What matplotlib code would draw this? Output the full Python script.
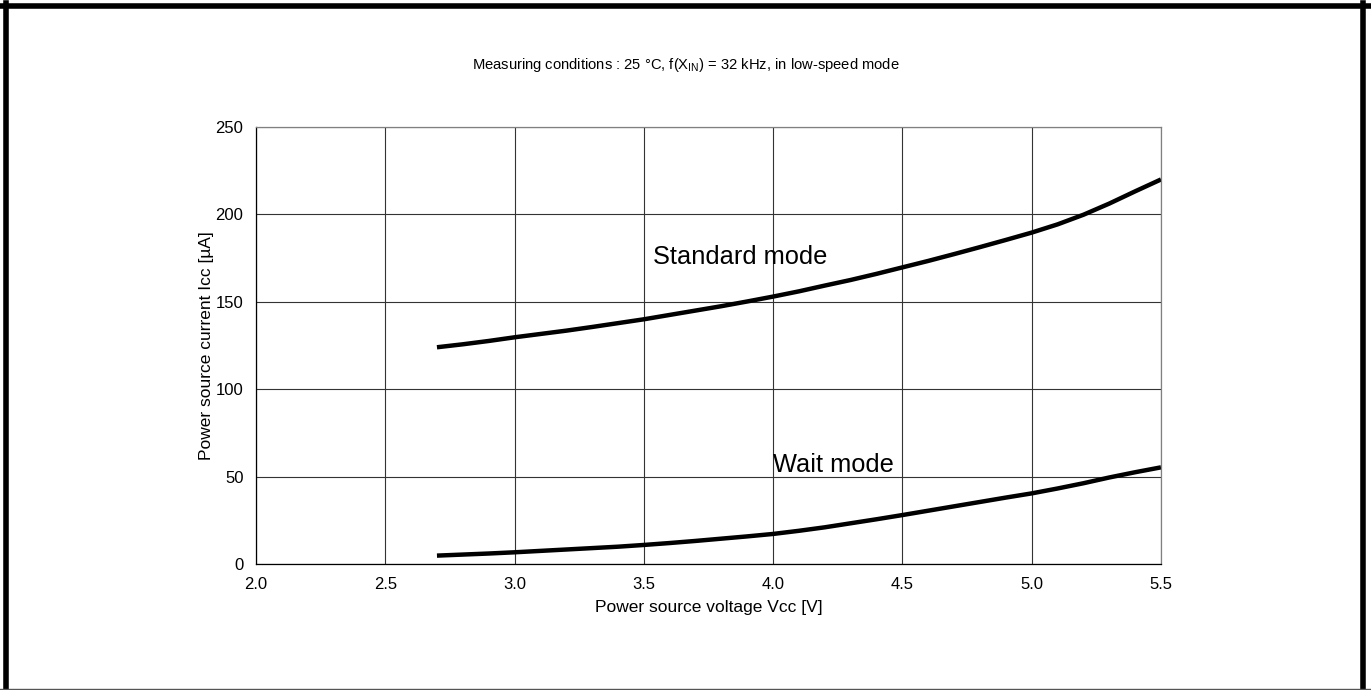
import matplotlib
matplotlib.use("Agg")
import matplotlib.pyplot as plt
from matplotlib.lines import Line2D
import numpy as np

plt.rcParams['font.family'] = ['Liberation Sans', 'DejaVu Sans']
plt.rcParams['mathtext.fontset'] = 'custom'
plt.rcParams['mathtext.rm'] = 'Liberation Sans'

# supply voltage [V]
vcc = [2.7, 2.8, 2.9, 3.0, 3.1, 3.2, 3.3, 3.4, 3.5, 3.6, 3.7, 3.8, 3.9, 4.0, 4.1,
       4.2, 4.3, 4.4, 4.5, 4.6, 4.7, 4.8, 4.9, 5.0, 5.1, 5.2, 5.3, 5.4, 5.5]
# current [uA]
icc_standard = [124.0, 125.7, 127.6, 129.7, 131.6, 133.5, 135.6, 137.8, 140.0, 142.5,
                145.0, 147.5, 150.2, 153.0, 156.0, 159.3, 162.5, 166.0, 169.7, 173.4,
                177.3, 181.3, 185.4, 189.6, 194.3, 199.8, 206.2, 213.2, 220.0]
icc_wait = [4.8, 5.4, 6.0, 6.7, 7.5, 8.3, 9.1, 9.9, 10.9, 12.0, 13.2, 14.5, 15.8, 17.2,
            19.0, 21.0, 23.3, 25.6, 28.0, 30.5, 33.0, 35.5, 38.0, 40.4, 43.2, 46.2,
            49.5, 52.5, 55.3]

x_ticks = [2.0, 2.5, 3.0, 3.5, 4.0, 4.5, 5.0, 5.5]
y_ticks = [0, 50, 100, 150, 200, 250]

fig = plt.figure(figsize=(13.71, 6.90), dpi=100)
ax = fig.add_axes([0.1867, 0.1826, 0.6601, 0.6333])

ax.plot(vcc, icc_standard, color='black', linewidth=3.2, solid_capstyle='butt')
ax.plot(vcc, icc_wait, color='black', linewidth=3.2, solid_capstyle='butt')

ax.text(3.535, 175.8, 'Standard mode', fontsize=18.3, va='center', ha='left')
ax.text(3.998, 56.6, 'Wait mode', fontsize=18.3, va='center', ha='left')

ax.set_xlim(2.0, 5.5)
ax.set_ylim(0, 250)
ax.set_xticks(x_ticks)
ax.set_xticklabels(['%.1f' % t for t in x_ticks])
ax.set_yticks(y_ticks)
ax.grid(True, color='#333333', linewidth=0.8)
ax.tick_params(length=0, labelsize=12, pad=9)

for side in ['left', 'bottom']:
    ax.spines[side].set_color('black')
    ax.spines[side].set_linewidth(0.9)
for side in ['top', 'right']:
    ax.spines[side].set_color('#808080')
    ax.spines[side].set_linewidth(0.9)

ax.set_xlabel('Power source voltage Vcc [V]', fontsize=12.5, labelpad=6)
ax.set_ylabel('Power source current Icc [\u00b5A]', fontsize=12.5, labelpad=1)

fig.text(0.5, 1 - 65 / 690, r'Measuring conditions : 25 °C, f(X$_{\mathrm{IN}}$) = 32 kHz, in low-speed mode',
         fontsize=10.6, ha='center', va='center')

# outer frame
W, H = 1371.0, 690.0
fig.add_artist(Line2D([0, 1], [1 - 5.5 / H, 1 - 5.5 / H], transform=fig.transFigure, color='black', linewidth=4))
fig.add_artist(Line2D([5.5 / W, 5.5 / W], [0, 1 - 3 / H], transform=fig.transFigure, color='black', linewidth=4))
fig.add_artist(Line2D([1362.5 / W, 1362.5 / W], [0, 1 - 3 / H], transform=fig.transFigure, color='black', linewidth=4))
fig.add_artist(Line2D([0, 1], [1 / H, 1 / H], transform=fig.transFigure, color='#555555', linewidth=1))

fig.savefig("out.png", dpi=100)
